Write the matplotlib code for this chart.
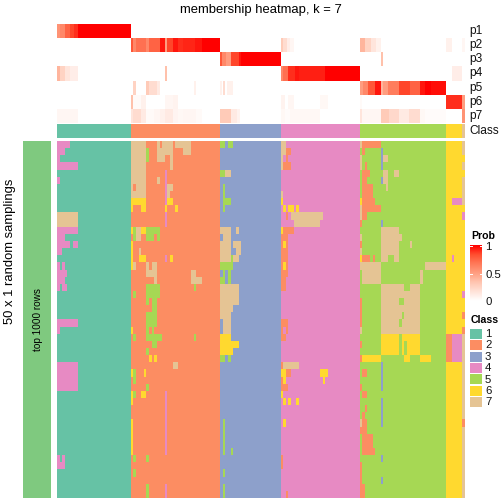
import numpy as np
import matplotlib as mpl
mpl.use('Agg')
import matplotlib.pyplot as plt
from matplotlib.colors import ListedColormap, LinearSegmentedColormap

plt.rcParams['font.family'] = ['Liberation Sans', 'DejaVu Sans']

class_names = ['1', '2', '3', '4', '5', '6', '7']
class_colors = ['#66C2A5', '#FC8D62', '#8DA0CB', '#E78AC3', '#A6D854', '#FFD92F', '#E5C494']
prob_names = ['p1', 'p2', 'p3', 'p4', 'p5', 'p6', 'p7']

n_rows = 50
n_cols = 408
# (first column, last column, class) of the consensus classes
class_spans = [(0, 74, 1), (74, 163, 2), (163, 224, 3), (224, 303, 4),
               (303, 389, 5), (389, 405, 6), (405, 408, 7)]

# membership per column, (first column, last column, probability)
p1_runs = [(0, 3, .55), (3, 8, .6), (8, 13, .75), (13, 17, .85), (17, 21, .9), (21, 74, 1)]
p2_runs = [(74, 76, .8), (76, 79, .6), (79, 89, .7), (89, 92, .6), (92, 103, .75),
           (103, 108, .95), (108, 110, .5), (110, 116, .85), (116, 121, .95),
           (121, 126, .9), (126, 138, .92), (138, 145, .95), (145, 163, 1),
           (224, 226, .3), (226, 230, .2), (230, 233, .1), (233, 237, .05),
           (303, 308, .4), (308, 314, .25), (314, 319, .15), (319, 324, .08),
           (389, 395, .08), (405, 408, .05)]
p3_runs = [(163, 165, .8), (165, 169, .6), (169, 174, .5), (174, 182, .85),
           (182, 184, .95), (184, 224, 1), (324, 326, .35)]
p4_runs = [(0, 3, .4), (3, 8, .25), (8, 13, .15), (13, 21, .1), (108, 110, .35),
           (224, 226, .6), (226, 231, .7), (231, 238, .9), (238, 242, .95),
           (242, 268, .93), (268, 303, 1), (395, 405, .1)]
p5_runs = [(76, 79, .25), (89, 92, .3), (92, 100, .2), (100, 103, .12), (137, 139, .08),
           (163, 165, .08), (166, 168, .2), (170, 176, .08),
           (303, 306, .5), (306, 311, .6), (311, 318, .8), (318, 324, .95),
           (324, 326, .4), (326, 331, .5), (331, 342, .65), (342, 353, .85),
           (353, 363, .75), (363, 368, .95), (368, 374, 1), (374, 389, .97)]
p6_runs = [(74, 76, .35), (76, 84, .03), (84, 89, .08), (108, 116, .05), (116, 121, .07),
           (224, 228, .07), (231, 237, .05), (263, 271, .04), (303, 305, .03),
           (389, 405, .9), (405, 408, .5)]
p7_runs = [(0, 21, .05), (74, 76, .15), (76, 84, .2), (84, 89, .12), (89, 97, .03),
           (97, 103, .05), (103, 108, .08), (108, 116, .12), (116, 121, .06),
           (121, 126, .04), (126, 139, .05), (139, 145, .03),
           (163, 174, .3), (174, 180, .12), (180, 183, .07),
           (224, 228, .04), (228, 233, .02), (233, 263, .04),
           (303, 305, .15), (305, 324, .05), (324, 332, .3), (332, 342, .22),
           (342, 352, .12), (352, 363, .2), (363, 368, .04), (368, 389, .02),
           (405, 408, .55)]

# samples that differ from the consensus class,
# (first row, last row, first column, last column, class)
changes_group1 = [
    (0, 1, 0, 13, 4), (1, 2, 0, 8, 4), (2, 3, 0, 3, 4), (3, 4, 0, 21, 4), (5, 6, 0, 3, 4),
    (10, 12, 0, 21, 7), (12, 13, 0, 21, 4), (13, 14, 0, 8, 4), (14, 15, 0, 13, 4),
    (14, 15, 16, 21, 4), (15, 16, 0, 5, 4), (17, 18, 0, 3, 4), (17, 18, 5, 8, 4),
    (18, 19, 0, 10, 4), (19, 20, 0, 8, 4), (20, 21, 0, 3, 4), (20, 21, 5, 10, 4),
    (25, 26, 0, 21, 4), (26, 27, 0, 3, 4), (31, 35, 0, 21, 4),
    (44, 45, 0, 3, 4), (44, 45, 5, 8, 4), (45, 46, 0, 8, 4),
]
changes_group2 = [
    (0, 8, 74, 89, 7), (6, 7, 76, 79, 2), (8, 9, 74, 89, 6), (9, 10, 74, 76, 6),
    (9, 10, 84, 89, 6), (12, 13, 74, 76, 6), (12, 14, 76, 79, 5), (12, 14, 79, 84, 7),
    (12, 13, 84, 89, 6), (12, 13, 89, 103, 5), (13, 14, 89, 97, 5), (13, 14, 100, 103, 5),
    (14, 18, 74, 76, 6), (15, 16, 82, 84, 7), (16, 17, 82, 89, 6), (17, 18, 76, 79, 7),
    (17, 18, 89, 92, 7), (17, 18, 95, 100, 7),
    (0, 1, 100, 103, 7), (0, 1, 105, 116, 7), (0, 1, 118, 134, 7), (1, 3, 89, 92, 5),
    (1, 2, 100, 116, 7), (1, 2, 126, 134, 7), (2, 3, 100, 108, 7), (2, 4, 113, 116, 7),
    (4, 9, 108, 110, 4), (9, 10, 108, 110, 6), (10, 12, 108, 110, 4), (5, 6, 100, 103, 7),
    (6, 7, 110, 116, 7), (7, 8, 110, 113, 7), (8, 9, 110, 116, 6), (9, 10, 118, 121, 6),
    (16, 17, 108, 110, 4), (16, 17, 113, 116, 6),
    (18, 19, 89, 100, 7), (18, 19, 134, 139, 7), (19, 20, 97, 100, 7), (19, 20, 134, 145, 7),
    (20, 22, 89, 103, 5), (20, 21, 137, 139, 5), (21, 22, 76, 79, 5), (22, 23, 89, 92, 5),
    (22, 24, 95, 100, 5), (24, 26, 89, 100, 5), (26, 27, 74, 76, 6), (26, 27, 89, 92, 5),
    (26, 27, 95, 97, 5), (27, 28, 76, 79, 5), (27, 28, 89, 105, 5), (27, 28, 137, 139, 5),
    (28, 29, 95, 100, 5), (29, 30, 89, 92, 5), (30, 31, 92, 95, 6), (30, 31, 97, 100, 6),
    (31, 32, 116, 121, 7), (32, 33, 74, 76, 6), (32, 34, 76, 79, 5), (32, 33, 87, 89, 6),
    (34, 35, 89, 92, 5), (35, 37, 74, 76, 6), (35, 36, 76, 79, 5), (35, 36, 84, 89, 6),
    (35, 44, 108, 110, 4), (39, 44, 74, 76, 6), (44, 45, 76, 79, 5), (44, 45, 89, 92, 5),
    (46, 47, 76, 79, 5), (48, 50, 89, 92, 5), (48, 50, 108, 110, 4),
]
changes_group3 = [
    (0, 1, 163, 168, 5), (0, 1, 171, 176, 5), (4, 5, 163, 168, 5), (4, 5, 168, 174, 7),
    (6, 10, 166, 168, 5), (8, 9, 166, 174, 5), (12, 13, 163, 174, 7), (12, 13, 179, 182, 7),
    (13, 14, 166, 174, 7), (14, 15, 163, 174, 7), (14, 15, 176, 184, 7), (15, 16, 163, 174, 7),
    (15, 16, 179, 184, 7), (16, 17, 163, 174, 7), (16, 17, 174, 176, 5), (16, 17, 176, 182, 7),
    (17, 18, 163, 176, 5), (18, 19, 166, 168, 5), (18, 20, 171, 174, 5), (19, 20, 163, 168, 5),
    (20, 23, 163, 182, 7), (23, 24, 163, 176, 7), (24, 25, 163, 174, 7), (25, 27, 166, 174, 7),
    (27, 28, 163, 174, 6), (28, 29, 163, 182, 6), (29, 30, 163, 176, 6), (30, 31, 163, 168, 5),
    (30, 31, 171, 174, 5), (39, 44, 166, 168, 5), (43, 44, 174, 176, 5), (46, 47, 166, 168, 5),
    (48, 50, 166, 168, 5),
]
changes_group4 = [
    (0, 2, 224, 229, 7), (1, 2, 229, 234, 2), (2, 4, 224, 226, 7), (2, 3, 229, 231, 2),
    (3, 4, 226, 234, 2), (7, 8, 224, 226, 7), (8, 9, 224, 226, 6), (9, 10, 226, 229, 6),
    (9, 10, 231, 237, 6), (9, 10, 239, 242, 6), (10, 11, 229, 231, 2), (10, 11, 234, 266, 7),
    (11, 12, 237, 263, 7), (12, 13, 224, 226, 6), (12, 13, 226, 237, 2), (13, 19, 224, 231, 2),
    (14, 15, 226, 229, 6), (17, 18, 226, 229, 6), (19, 21, 224, 229, 2), (25, 26, 224, 231, 2),
    (26, 27, 224, 226, 2), (26, 27, 229, 231, 2), (27, 28, 224, 229, 2), (31, 32, 224, 226, 2),
    (31, 32, 226, 242, 7), (32, 33, 224, 229, 6), (32, 33, 229, 234, 2), (32, 33, 263, 271, 6),
    (33, 34, 224, 226, 2), (33, 34, 226, 229, 6), (33, 34, 266, 268, 6), (34, 35, 224, 231, 2),
    (35, 36, 224, 226, 6), (36, 37, 226, 229, 6), (36, 37, 231, 234, 6), (36, 37, 239, 242, 6),
    (39, 40, 226, 229, 6), (44, 46, 224, 226, 2), (49, 50, 229, 231, 2),
]
changes_group5 = [
    (0, 1, 303, 305, 7), (0, 1, 305, 324, 2), (1, 2, 305, 308, 2), (1, 4, 324, 326, 3),
    (2, 4, 303, 305, 7), (2, 3, 326, 331, 7), (3, 4, 308, 310, 2), (4, 5, 305, 313, 2),
    (4, 6, 326, 331, 7), (4, 5, 337, 342, 7), (5, 6, 305, 310, 2), (5, 6, 324, 326, 3),
    (6, 8, 305, 316, 2), (6, 7, 329, 331, 7), (8, 9, 303, 305, 6), (8, 9, 305, 318, 2),
    (9, 11, 303, 305, 7), (9, 10, 305, 324, 2), (10, 11, 305, 310, 2), (11, 12, 303, 305, 2),
    (11, 12, 324, 326, 3), (12, 13, 324, 342, 7), (13, 14, 303, 305, 7), (13, 14, 324, 345, 7),
    (14, 15, 303, 305, 2), (14, 16, 324, 342, 7), (14, 15, 353, 355, 7), (15, 16, 303, 305, 7),
    (16, 17, 303, 305, 6), (16, 17, 305, 313, 2), (16, 17, 316, 318, 2), (16, 17, 324, 331, 7),
    (16, 17, 337, 342, 7), (17, 18, 303, 324, 7), (17, 18, 368, 389, 7), (18, 20, 305, 324, 7),
    (18, 20, 363, 366, 7), (20, 21, 324, 347, 7), (20, 21, 353, 363, 7), (21, 27, 324, 363, 7),
    (22, 23, 342, 347, 5), (24, 25, 345, 347, 5), (25, 26, 342, 345, 5), (22, 26, 303, 305, 2),
    (26, 27, 303, 305, 7), (27, 28, 324, 342, 6), (27, 28, 345, 363, 6), (28, 30, 324, 342, 6),
    (28, 30, 345, 347, 6), (28, 30, 350, 363, 6), (28, 29, 303, 305, 2), (30, 31, 303, 305, 2),
    (30, 31, 305, 324, 6), (30, 31, 347, 353, 6), (30, 31, 363, 374, 6), (31, 35, 324, 326, 3),
    (32, 33, 305, 310, 2), (34, 35, 303, 305, 2), (35, 36, 305, 310, 2), (36, 40, 324, 326, 3),
    (37, 38, 308, 310, 2), (38, 39, 305, 308, 2), (39, 40, 303, 305, 7), (39, 40, 305, 310, 2),
    (40, 41, 303, 310, 2), (41, 43, 305, 316, 2), (43, 44, 305, 318, 2), (44, 45, 324, 326, 3),
    (45, 48, 303, 305, 2), (47, 48, 324, 326, 3), (48, 50, 303, 308, 2),
]
changes_group6 = [
    (8, 9, 395, 405, 4), (16, 17, 395, 397, 4), (27, 31, 389, 395, 2), (27, 31, 395, 405, 4),
]
changes_group7 = [
    (2, 3, 405, 408, 6), (4, 5, 405, 408, 6), (9, 10, 405, 408, 6), (10, 11, 405, 408, 4),
    (11, 21, 405, 408, 6), (21, 22, 405, 408, 4), (22, 24, 405, 408, 6), (24, 25, 405, 408, 2),
    (25, 26, 405, 408, 6), (26, 27, 405, 408, 2), (39, 40, 405, 408, 2),
]
all_changes = [changes_group1, changes_group2, changes_group3, changes_group4,
               changes_group5, changes_group6, changes_group7]

prob_runs = [p1_runs, p2_runs, p3_runs, p4_runs, p5_runs, p6_runs, p7_runs]

# build the matrices
class_row = np.zeros(n_cols, dtype=int)
for c0, c1, k in class_spans:
    class_row[c0:c1] = k
main = np.tile(class_row, (n_rows, 1))
for group in all_changes:
    for r0, r1, c0, c1, k in group:
        main[r0:r1, c0:c1] = k

probs = np.zeros((len(prob_runs), n_cols))
for i, runs in enumerate(prob_runs):
    for c0, c1, v in runs:
        probs[i, c0:c1] = v

class_cmap = ListedColormap(class_colors)
prob_cmap = LinearSegmentedColormap.from_list(
    'prob', ['#FFFFFF', '#FFE2D8', '#FFC5B0', '#FF9E81', '#FF7A5A', '#FF4F30', '#FF0000'])

W = H = 504
fig = plt.figure(figsize=(5.04, 5.04), dpi=100)


def px_axes(x0, y0, x1, y1):
    '''
    axes from pixel box, y counted from the top of the picture
    '''
    ax = fig.add_axes([x0 / W, 1 - y1 / H, (x1 - x0) / W, (y1 - y0) / H])
    ax.set_axis_off()
    return ax


def draw_classes(ax, m):
    ax.imshow(m, aspect='auto', interpolation='nearest', cmap=class_cmap, vmin=0.5, vmax=7.5)


ax = px_axes(57, 24, 465, 123)
ax.imshow(probs, aspect='auto', interpolation='nearest', cmap=prob_cmap, vmin=0, vmax=1)

ax = px_axes(57, 124, 465, 138)
draw_classes(ax, class_row[np.newaxis, :])

ax = px_axes(57, 141, 465, 498)
draw_classes(ax, main)

ax = px_axes(23, 141, 51, 498)
ax.imshow([[0]], aspect='auto', cmap=ListedColormap(['#7FC97F']))

for i, name in enumerate(prob_names):
    fig.text(469 / W, 1 - (31 + i * 14.15) / H, name, fontsize=8.6, va='center', color='#111111')
fig.text(469 / W, 1 - 131.5 / H, 'Class', fontsize=8.6, va='center', color='#111111')

fig.text(261 / W, 1 - 9.5 / H, 'membership heatmap, k = 7', fontsize=9.4, ha='center', va='center')
fig.text(10.5 / W, 1 - 251.5 / H, '50 x 1 random samplings', fontsize=9.4, rotation=90,
         ha='center', va='center')
fig.text(38 / W, 1 - 320 / H, 'top 1000 rows', fontsize=7.2, rotation=90,
         ha='center', va='center')

# probability legend
fig.text(471 / W, 1 - 236 / H, 'Prob', fontsize=7.6, fontweight='bold', va='center')
cax = px_axes(470, 245, 482, 301)
cax.imshow(np.linspace(1, 0, 100)[:, np.newaxis], aspect='auto', cmap=prob_cmap,
           vmin=0, vmax=1, extent=(0, 1, 0, 1))
for v, label in zip([1, 0.5, 0], ['1', '0.5', '0']):
    tick_y = v * .98
    cax.plot([0, .2], [tick_y, tick_y], color='white', lw=.7)
    cax.plot([.8, 1], [tick_y, tick_y], color='white', lw=.7)
    fig.text(485 / W, 1 - (302 - 55 * v) / H, label, fontsize=8.2, va='center', color='#111111')
cax.set_xlim(0, 1)
cax.set_ylim(0, 1)

# class legend
fig.text(471 / W, 1 - 320 / H, 'Class', fontsize=7.6, fontweight='bold', va='center')
lax = px_axes(470, 328, 482, 408)
lax.barh(range(7), [1] * 7, height=.88, color=class_colors)
lax.set_xlim(0, 1)
lax.set_ylim(6.5, -.5)
for i, name in enumerate(class_names):
    fig.text(485 / W, 1 - (334 + i * 11.4) / H, name, fontsize=8.2, va='center', color='#111111')

plt.savefig('out.png', format='png', dpi=100)
plt.close()
